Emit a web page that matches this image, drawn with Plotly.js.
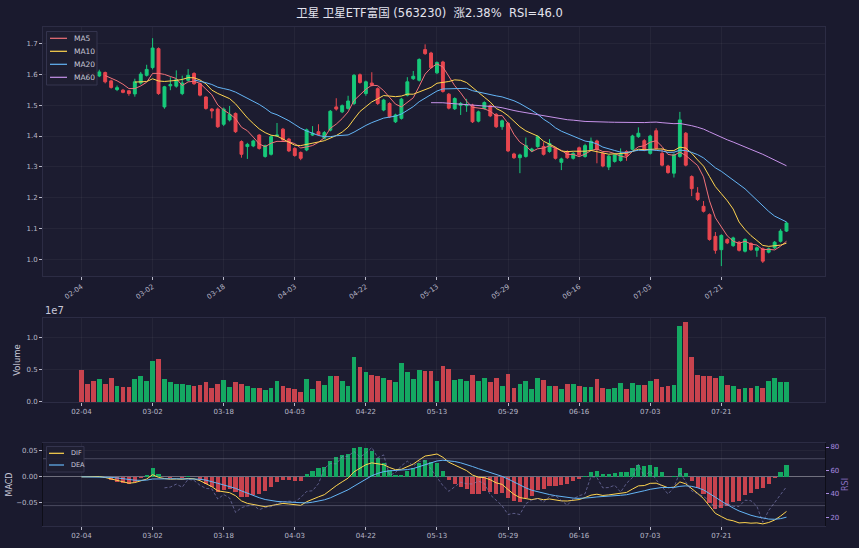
<!DOCTYPE html>
<html><head><meta charset="utf-8">
<script src="https://cdn.plot.ly/plotly-3.0.1.min.js"></script>
<style>html,body{margin:0;padding:0;background:#1a1a2e;}#chart{width:859px;height:548px;}</style>
</head><body><div id="chart"></div>
<script>
const dates = ['02-04','02-05','02-06','02-09','02-10','02-11','02-12','02-13','02-24','02-25','02-26','02-27',
'03-02','03-03','03-04','03-05','03-06','03-09','03-10','03-11','03-12','03-13','03-16','03-17',
'03-18','03-19','03-20','03-23','03-24','03-25','03-26','03-27','03-30','03-31','04-01','04-02',
'04-03','04-07','04-08','04-09','04-10','04-13','04-14','04-15','04-16','04-17','04-20','04-21',
'04-22','04-23','04-24','04-27','04-28','04-29','04-30','05-06','05-07','05-08','05-11','05-12',
'05-13','05-14','05-15','05-18','05-19','05-20','05-21','05-22','05-25','05-26','05-27','05-28',
'05-29','06-01','06-02','06-03','06-04','06-05','06-08','06-09','06-10','06-11','06-12','06-15',
'06-16','06-17','06-18','06-22','06-23','06-24','06-25','06-26','06-29','06-30','07-01','07-02',
'07-03','07-06','07-07','07-08','07-09','07-10','07-13','07-14','07-15','07-16','07-17','07-20',
'07-21','07-22','07-23','07-24','07-27','07-28','07-29','07-30','07-31','08-03','08-04','08-05'];
const tickLabels = ['02-04','03-02','03-18','04-03','04-22','05-13','05-29','06-16','07-03','07-21'];

const open = [1.606,1.604,1.602,1.594,1.605,1.578,1.550,1.548,1.546,1.536,1.571,1.596,
1.621,1.682,1.494,1.562,1.561,1.537,1.580,1.602,1.569,1.526,1.487,1.487,
1.438,1.452,1.473,1.382,1.366,1.368,1.403,1.334,1.341,1.400,1.422,1.390,
1.360,1.347,1.355,1.403,1.414,1.393,1.419,1.494,1.478,1.489,1.505,1.598,
1.537,1.571,1.553,1.484,1.505,1.446,1.457,1.532,1.585,1.580,1.679,1.668,
1.604,1.639,1.535,1.488,1.499,1.498,1.500,1.448,1.489,1.498,1.470,1.430,
1.441,1.342,1.330,1.334,1.352,1.366,1.366,1.350,1.360,1.315,1.350,1.328,
1.362,1.334,1.356,1.384,1.344,1.300,1.318,1.321,1.350,1.357,1.398,1.385,
1.344,1.417,1.344,1.303,1.280,1.334,1.409,1.269,1.216,1.173,1.146,1.076,
1.033,1.066,1.046,1.057,1.028,1.053,1.031,1.036,1.025,1.039,1.060,1.093];
const high = [1.610,1.608,1.606,1.614,1.608,1.582,1.563,1.552,1.548,1.585,1.607,1.630,
1.716,1.686,1.562,1.590,1.612,1.595,1.616,1.606,1.572,1.528,1.490,1.492,
1.492,1.497,1.476,1.386,1.378,1.388,1.406,1.372,1.402,1.442,1.426,1.394,
1.364,1.350,1.424,1.432,1.438,1.416,1.484,1.522,1.502,1.530,1.600,1.602,
1.579,1.606,1.557,1.520,1.509,1.472,1.523,1.590,1.610,1.651,1.696,1.672,
1.641,1.643,1.539,1.525,1.510,1.520,1.504,1.482,1.512,1.502,1.474,1.453,
1.445,1.346,1.343,1.395,1.362,1.402,1.380,1.390,1.364,1.330,1.354,1.348,
1.366,1.375,1.395,1.388,1.348,1.339,1.343,1.360,1.354,1.404,1.428,1.390,
1.404,1.425,1.360,1.307,1.344,1.478,1.413,1.273,1.235,1.190,1.150,1.090,
1.083,1.070,1.075,1.061,1.070,1.057,1.043,1.040,1.040,1.061,1.100,1.123];
const low = [1.594,1.596,1.575,1.590,1.570,1.553,1.545,1.538,1.530,1.527,1.566,1.592,
1.615,1.533,1.488,1.548,1.556,1.532,1.576,1.565,1.528,1.485,1.457,1.426,
1.432,1.447,1.410,1.330,1.326,1.364,1.356,1.330,1.337,1.398,1.383,1.348,
1.333,1.322,1.351,1.400,1.401,1.389,1.415,1.482,1.474,1.485,1.500,1.569,
1.530,1.560,1.500,1.480,1.458,1.442,1.453,1.528,1.581,1.576,1.662,1.617,
1.600,1.540,1.486,1.484,1.468,1.478,1.442,1.444,1.485,1.461,1.426,1.420,
1.348,1.326,1.280,1.330,1.348,1.362,1.337,1.346,1.324,1.290,1.326,1.324,
1.335,1.330,1.352,1.312,1.299,1.290,1.314,1.317,1.320,1.353,1.394,1.351,
1.340,1.356,1.302,1.278,1.266,1.330,1.302,1.206,1.190,1.153,1.062,1.020,
0.980,1.051,1.042,1.027,1.024,1.029,1.010,0.990,1.021,1.035,1.056,1.090];
const close = [1.598,1.600,1.596,1.607,1.575,1.557,1.556,1.541,1.537,1.575,1.600,1.615,
1.684,1.537,1.559,1.566,1.582,1.571,1.596,1.569,1.532,1.489,1.481,1.430,
1.487,1.470,1.414,1.341,1.373,1.384,1.360,1.369,1.398,1.403,1.387,1.352,
1.337,1.328,1.420,1.409,1.405,1.411,1.480,1.487,1.498,1.513,1.596,1.573,
1.575,1.564,1.505,1.516,1.462,1.468,1.519,1.575,1.593,1.647,1.666,1.621,
1.637,1.544,1.490,1.521,1.505,1.502,1.446,1.478,1.508,1.465,1.430,1.449,
1.352,1.330,1.339,1.369,1.358,1.398,1.341,1.376,1.328,1.326,1.330,1.344,
1.339,1.369,1.383,1.356,1.303,1.335,1.339,1.342,1.336,1.400,1.409,1.355,
1.400,1.360,1.306,1.282,1.340,1.452,1.306,1.230,1.195,1.157,1.066,1.031,
1.079,1.055,1.071,1.031,1.066,1.033,1.039,0.996,1.036,1.057,1.093,1.119];
const volume = [4.90e6,2.74e6,3.25e6,3.51e6,2.74e6,3.76e6,2.42e6,2.32e6,2.32e6,3.61e6,3.97e6,3.25e6,
6.30e6,6.60e6,3.51e6,3.05e6,2.74e6,2.74e6,2.58e6,2.42e6,2.58e6,3.05e6,2.22e6,2.84e6,
3.36e6,2.32e6,3.05e6,2.84e6,2.42e6,2.22e6,2.22e6,1.81e6,2.22e6,3.25e6,2.42e6,2.22e6,
1.96e6,1.55e6,3.51e6,2.01e6,3.25e6,2.58e6,3.97e6,3.97e6,3.25e6,2.42e6,6.94e6,5.41e6,
4.59e6,4.13e6,3.97e6,3.76e6,3.36e6,3.05e6,6.04e6,4.59e6,3.61e6,4.90e6,4.74e6,4.74e6,
3.25e6,5.52e6,5.05e6,3.36e6,3.61e6,3.25e6,4.13e6,3.25e6,3.76e6,3.10e6,3.76e6,2.42e6,
4.28e6,2.22e6,2.84e6,3.20e6,2.06e6,3.76e6,3.36e6,2.53e6,2.42e6,2.06e6,2.74e6,2.74e6,
2.42e6,2.32e6,2.32e6,3.51e6,2.22e6,1.96e6,2.17e6,2.89e6,2.06e6,2.89e6,2.58e6,2.58e6,
3.20e6,3.51e6,2.32e6,2.42e6,2.58e6,11.70e6,12.32e6,6.94e6,4.13e6,3.97e6,3.97e6,3.66e6,
3.97e6,2.58e6,2.42e6,2.01e6,2.17e6,2.17e6,2.42e6,2.17e6,3.25e6,3.76e6,3.10e6,3.10e6];

const maPeriods = [5, 10, 20, 60];
const maColors = ['#f07178', '#ffd54f', '#64b5f6', '#c792ea'];
const macdNames = ['DIF', 'DEA'];
const macdColors = ['#ffd54f', '#64b5f6'];

const G = '#17c97a', R = '#e8464f', GV = '#14a862', RV = '#c8434e';
const xs = dates.map((d, i) => i);
const tickVals = tickLabels.map(t => dates.indexOf(t));

function sma(a, n) { return a.map((v, i) => i < n - 1 ? null : a.slice(i - n + 1, i + 1).reduce((s, b) => s + b, 0) / n); }
function ema(a, n) { const k = 2 / (n + 1); const o = []; a.forEach((v, i) => o.push(i === 0 ? v : v * k + o[i - 1] * (1 - k))); return o; }
const e12 = ema(close, 12), e26 = ema(close, 26);
const dif = e12.map((v, i) => v - e26[i]);
const dea = ema(dif, 9);
const hist = dif.map((v, i) => 2 * (v - dea[i]));
const rsi = close.map((c, i) => {
  if (i < 14) return null;
  let g = 0, l = 0;
  for (let j = i - 13; j <= i; j++) { const d = close[j] - close[j - 1]; if (d > 0) g += d; else l -= d; }
  if (l === 0) return 100;
  return 100 - 100 / (1 + g / l);
});

const up = close.map((c, i) => c >= open[i]);
const xr = [-6.5, 125.5];
const tf = {family: 'DejaVu Sans', size: 7, color: '#b8b8c8'};

const traces = [
  {type: 'candlestick', x: xs, open: open, high: high, low: low, close: close, xaxis: 'x', yaxis: 'y',
   increasing: {line: {color: G, width: 1}, fillcolor: G}, decreasing: {line: {color: R, width: 1}, fillcolor: R},
   whiskerwidth: 0, showlegend: false, hoverinfo: 'skip'}
];
maPeriods.forEach((p, k) => traces.push({type: 'scatter', mode: 'lines', x: xs, y: sma(close, p), xaxis: 'x', yaxis: 'y',
  name: 'MA' + p, line: {color: maColors[k], width: 1}, showlegend: false}));
traces.push(
  {type: 'bar', x: xs, y: volume, xaxis: 'x2', yaxis: 'y2', width: 0.8, marker: {color: up.map(u => u ? GV : RV), line: {width: 0}}, showlegend: false},
  {type: 'bar', x: xs, y: hist, xaxis: 'x3', yaxis: 'y3', width: 0.7, marker: {color: hist.map(h => h >= 0 ? GV : RV), line: {width: 0}}, showlegend: false},
  {type: 'scatter', mode: 'lines', x: xs, y: dif, xaxis: 'x3', yaxis: 'y3', name: macdNames[0], line: {color: macdColors[0], width: 1}, showlegend: false},
  {type: 'scatter', mode: 'lines', x: xs, y: dea, xaxis: 'x3', yaxis: 'y3', name: macdNames[1], line: {color: macdColors[1], width: 1}, showlegend: false},
  {type: 'scatter', mode: 'lines', x: xs, y: rsi, xaxis: 'x3', yaxis: 'y4', name: 'RSI', line: {color: 'rgba(135,135,195,0.6)', width: 1, dash: '3px,2px'}, showlegend: false}
);

// pixel -> paper helpers (plot area 43..825 x, 27..526 y)
const PX = px => (px - 43) / 782, PY = py => (526 - py) / 499;
const shapes = [
  {type: 'line', xref: 'x3 domain', yref: 'y4', x0: 0, x1: 1, y0: 70, y1: 70, line: {color: 'rgba(160,160,180,0.35)', width: 1}},
  {type: 'line', xref: 'x3 domain', yref: 'y4', x0: 0, x1: 1, y0: 30, y1: 30, line: {color: 'rgba(160,160,180,0.35)', width: 1}},
  {type: 'rect', xref: 'paper', yref: 'paper', x0: PX(46.5), x1: PX(97), y0: PY(85), y1: PY(31.5),
   fillcolor: 'rgba(30,30,50,0.93)', line: {color: '#34344e', width: 1}, layer: 'above'},
  {type: 'rect', xref: 'paper', yref: 'paper', x0: PX(46.5), x1: PX(84), y0: PY(472), y1: PY(446.5),
   fillcolor: 'rgba(30,30,50,0.93)', line: {color: '#34344e', width: 1}, layer: 'above'}
];
const annotations = [
  {text: '1e7', xref: 'paper', yref: 'paper', x: 0, y: 0.4168, xanchor: 'left', yanchor: 'bottom', showarrow: false,
   font: {family: 'DejaVu Sans', size: 10, color: '#c8c8d8'}}
];
maPeriods.forEach((p, k) => {
  const py = 38.3 + 13 * k;
  shapes.push({type: 'line', xref: 'paper', yref: 'paper', x0: PX(50), x1: PX(67), y0: PY(py), y1: PY(py),
    line: {color: maColors[k], width: 1.2}, layer: 'above'});
  annotations.push({text: 'MA' + p, xref: 'paper', yref: 'paper', x: PX(72), y: PY(py), xanchor: 'left', yanchor: 'middle',
    showarrow: false, font: {family: 'DejaVu Sans', size: 7.5, color: '#c8c8d8'}});
});
macdNames.forEach((n, k) => {
  const py = 453.3 + 11.7 * k;
  shapes.push({type: 'line', xref: 'paper', yref: 'paper', x0: PX(49), x1: PX(64), y0: PY(py), y1: PY(py),
    line: {color: macdColors[k], width: 1.2}, layer: 'above'});
  annotations.push({text: n, xref: 'paper', yref: 'paper', x: PX(68.5), y: PY(py), xanchor: 'left', yanchor: 'middle',
    showarrow: false, font: {family: 'DejaVu Sans', size: 6.5, color: '#c8c8d8'}});
});

const axBase = {range: xr, tickmode: 'array', tickvals: tickVals, ticktext: tickLabels, tickfont: tf,
  ticks: 'outside', ticklen: 3, tickcolor: '#b8b8c8', showline: true, mirror: true, linecolor: '#2c2c44',
  gridcolor: 'rgba(255,255,255,0.045)', zeroline: false};
const layout = {
  width: 859, height: 548, paper_bgcolor: '#1a1a2e', plot_bgcolor: '#1c1c30',
  margin: {l: 43, r: 34, t: 27, b: 22},
  showlegend: false,
  font: {family: 'DejaVu Sans, Noto Sans CJK SC', color: '#c8c8d8'},
  title: {text: '卫星 卫星ETF富国 (563230)  涨2.38%  RSI=46.0', x: 0.5, xanchor: 'center', y: 0.976, yanchor: 'middle',
          font: {family: 'DejaVu Sans, Noto Sans CJK SC', size: 11.5, color: '#e4e4ee'}},
  bargap: 0,
  xaxis: Object.assign({}, axBase, {anchor: 'y', tickangle: -35, rangeslider: {visible: false}}),
  xaxis2: Object.assign({}, axBase, {anchor: 'y2'}),
  xaxis3: Object.assign({}, axBase, {anchor: 'y3'}),
  yaxis: {domain: [0.501, 1], range: [0.948, 1.752], tickvals: [1.0, 1.1, 1.2, 1.3, 1.4, 1.5, 1.6, 1.7], tickformat: '.1f',
          tickfont: tf, ticks: 'outside', ticklen: 3, tickcolor: '#b8b8c8', showline: true, mirror: true, linecolor: '#2c2c44',
          gridcolor: 'rgba(255,255,255,0.045)', zeroline: false},
  yaxis2: {domain: [0.2485, 0.4168], range: [0, 1.294e7], tickvals: [0, 5e6, 1e7], ticktext: ['0.0', '0.5', '1.0'],
           tickfont: tf, ticks: 'outside', ticklen: 3, tickcolor: '#b8b8c8', showline: true, mirror: true, linecolor: '#2c2c44',
           gridcolor: 'rgba(255,255,255,0.045)', zeroline: false,
           title: {text: 'Volume', font: {size: 8.5, color: '#c8c8d8'}, standoff: 4}},
  yaxis3: {domain: [0, 0.1663], range: [-0.0942, 0.0648], tickvals: [-0.05, 0, 0.05], tickformat: '.2f',
           tickfont: tf, ticks: 'outside', ticklen: 3, tickcolor: '#b8b8c8', showline: true, mirror: true, linecolor: '#0e0e18',
           gridcolor: 'rgba(255,255,255,0.045)', zeroline: true, zerolinecolor: '#70707e', zerolinewidth: 1,
           title: {text: 'MACD', font: {size: 8, color: '#c8c8d8'}, standoff: 2}},
  yaxis4: {overlaying: 'y3', anchor: 'x3', side: 'right', range: [12.6, 83.4], tickvals: [20, 40, 60, 80],
           tickfont: {family: 'DejaVu Sans', size: 7, color: '#a98be0'}, ticks: 'outside', ticklen: 3, tickcolor: '#a98be0',
           showgrid: false, zeroline: false, showline: false,
           title: {text: 'RSI', font: {size: 8, color: '#8a6fc0'}, standoff: 4}},
  shapes: shapes,
  annotations: annotations
};
Plotly.newPlot('chart', traces, layout, {displayModeBar: false, staticPlot: true});
</script></body></html>
